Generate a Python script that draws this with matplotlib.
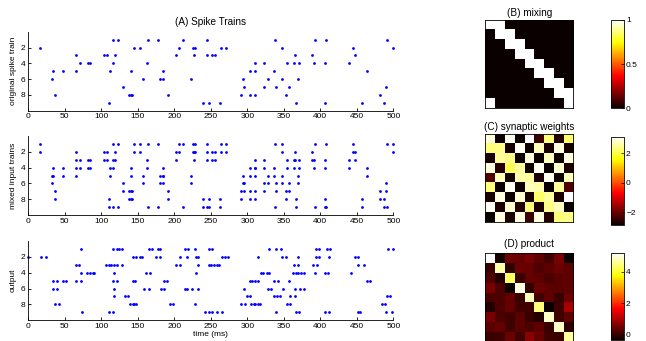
import numpy as np
import matplotlib
matplotlib.use("Agg")
import matplotlib.pyplot as plt

plt.rcParams['font.family'] = ['Liberation Sans', 'DejaVu Sans']
plt.rcParams['font.size'] = 6

# spike times (ms) of the 9 original trains
orig_trains = [
    [116, 123, 164, 177, 212, 245, 338, 393, 408, 492],
    [16, 145, 153, 207, 226, 228, 264, 271, 347, 445, 500],
    [65, 104, 108, 119, 202, 227, 245, 251, 256, 365, 388, 448],
    [71, 82, 85, 116, 162, 310, 323, 355, 364, 371, 391, 406, 439],
    [34, 47, 65, 112, 141, 185, 304, 311, 337, 464],
    [33, 157, 181, 184, 223, 294, 328, 348, 369],
    [130, 296, 323, 340, 357, 490],
    [37, 138, 141, 142, 192, 292, 304, 311, 353, 482],
    [111, 239, 248, 262, 367, 406, 457, 487],
]

# mixing matrix (B)
mixing = [
    [1, 1, 0, 0, 0, 0, 0, 0, 0],
    [0, 1, 1, 0, 0, 0, 0, 0, 0],
    [0, 0, 1, 1, 0, 0, 0, 0, 0],
    [0, 0, 0, 1, 1, 0, 0, 0, 0],
    [0, 0, 0, 0, 1, 1, 0, 0, 0],
    [0, 0, 0, 0, 0, 1, 1, 0, 0],
    [0, 0, 0, 0, 0, 0, 1, 1, 0],
    [0, 0, 0, 0, 0, 0, 0, 1, 1],
    [1, 0, 0, 0, 0, 0, 0, 0, 1],
]

# output spike times (ms)
out_trains = [
    [72, 116, 121, 124, 128, 165, 169, 177, 180, 215, 219, 229, 247, 252, 330, 340, 346, 394, 398, 409, 413, 493, 499],
    [0, 17, 24, 143, 148, 153, 156, 175, 180, 208, 218, 230, 233, 266, 270, 274, 314, 348, 353, 370, 394, 398, 412, 447, 452],
    [65, 69, 106, 110, 113, 117, 121, 128, 202, 208, 232, 247, 250, 254, 258, 261, 364, 370, 390, 396, 451, 460],
    [72, 80, 85, 88, 90, 118, 161, 167, 230, 319, 322, 327, 330, 362, 367, 370, 373, 377, 393, 406, 411, 442],
    [34, 39, 47, 51, 66, 72, 116, 121, 143, 146, 186, 190, 304, 307, 311, 314, 337, 342, 357, 464, 468],
    [34, 39, 118, 159, 165, 182, 186, 214, 217, 224, 233, 295, 329, 333, 349, 366, 372, 378],
    [118, 132, 137, 299, 304, 337, 341, 345, 358, 366, 491, 495],
    [37, 42, 139, 143, 145, 148, 194, 198, 229, 292, 297, 305, 309, 311, 314, 318, 354, 358, 484, 489],
    [74, 111, 116, 242, 248, 252, 258, 265, 340, 367, 371, 407, 412, 451, 455, 490, 498],
]

# synaptic weights (C)
weights = [
    [2.9, -2.8, 3.0, -2.85, 3.1, -2.4, 2.3, -2.6, 2.2],
    [2.3, 2.4, -2.75, 3.0, -2.8, 2.7, -2.7, 2.9, -2.75],
    [-2.7, 2.5, 2.4, -2.8, 2.9, -2.85, 2.7, -2.8, 2.9],
    [2.9, -2.6, 2.1, 2.5, -2.8, 3.0, -2.85, 2.8, -2.7],
    [-2.2, 2.7, -2.75, 2.6, 2.5, -2.7, 3.0, -2.8, 2.7],
    [2.3, -2.8, 3.0, -2.8, 2.7, 2.6, -2.85, 2.5, -2.2],
    [-2.7, 2.9, -2.8, 2.8, -2.7, 2.2, 2.5, -2.7, 3.1],
    [3.05, -2.7, 2.8, -2.6, 2.3, -2.7, 2.4, 2.7, -2.85],
    [-2.85, 2.9, -2.7, 2.9, -2.4, 2.9, -2.6, 2.3, 2.4],
]

# product (D)
product = [
    [5.15, -0.25, 0.5, 0.4, 0.55, 0.35, 0.1, 0.55, -0.35],
    [0.05, 4.7, -0.05, 0.45, 0.4, 0.2, 0.35, 0.45, 0.35],
    [0.2, -0.15, 4.3, 0.05, 0.4, 0.35, 0.2, 0.3, 0.35],
    [0.55, 0.2, -0.35, 5.0, -0.05, 0.45, 0.35, 0.3, 0.35],
    [0.2, 0.2, 0.4, 0.05, 4.8, 0.1, 0.35, 0.05, 0.45],
    [-0.15, 0.2, 0.4, 0.1, 0.1, 4.45, -0.35, 0.1, 0.95],
    [0.55, 0.2, 0.1, 0.3, 0.05, -0.15, 4.85, 0.1, 0.35],
    [0.3, 0.4, 0.1, 0.3, 0.2, 0.35, 0.05, 4.85, -0.05],
    [0.05, 0.1, 0.45, 0.1, 0.7, 0.4, 0.1, 0.05, 4.65],
]

# mixed trains: union of the original trains picked by each mixing row
mixed_trains = []
for row in mixing:
    ts = set()
    for j, m in enumerate(row):
        if m:
            ts.update(orig_trains[j])
    mixed_trains.append(sorted(ts))

fig = plt.figure(figsize=(6.46, 3.41), dpi=100)

W, H = 646.0, 341.0
def box(x0, top, w, h):
    return [x0 / W, 1 - (top + h) / H, w / W, h / H]

raster_tops = [31.7, 136.1, 241.1]
raster_data = [orig_trains, mixed_trains, out_trains]
ylabels = ['original spike train', 'mixed input trains', 'output']

for k in range(3):
    ax = fig.add_axes(box(28.3, raster_tops[k], 365, 79))
    for i, ts in enumerate(raster_data[k]):
        ax.plot(ts, [i + 1] * len(ts), '.', color='#0000ff', ms=4,
                mec='none', clip_on=False)
    ax.set_xlim(0, 500)
    ax.set_ylim(10, 0)
    ax.set_xticks(range(0, 501, 50))
    ax.set_yticks([2, 4, 6, 8])
    ax.spines['top'].set_visible(False)
    ax.spines['right'].set_visible(False)
    for s in ['left', 'bottom']:
        ax.spines[s].set_linewidth(0.6)
    ax.tick_params(direction='in', length=2.5, width=0.6, pad=2, labelsize=6)
    ax.set_ylabel(ylabels[k], labelpad=3)
    if k == 0:
        ax.set_title('(A) Spike Trains', pad=5)
    if k == 2:
        ax.set_xlabel('time (ms)', labelpad=1)

mats = [mixing, weights, product]
titles = ['(B) mixing', '(C) synaptic weights', '(D) product']
mat_tops = [20.0, 134.0, 253.3]
cb_tops = [20.0, 136.7, 253.3]
cb_h = [88.3, 88.3, 87.0]
lims = [(0, 1), (-2.85, 3.1), (-0.36, 5.17)]
cticks = [[0, 0.5, 1], [-2, 0, 2], [0, 2, 4]]
tpads = [3, 3, 4.5]

for k in range(3):
    ax = fig.add_axes(box(485, mat_tops[k], 88.3, 88.3))
    im = ax.imshow(np.array(mats[k]), cmap='hot', vmin=lims[k][0], vmax=lims[k][1],
                   interpolation='nearest', aspect='auto')
    ax.set_xticks([])
    ax.set_yticks([])
    for s in ax.spines.values():
        s.set_linewidth(0.6)
    ax.set_title(titles[k], pad=tpads[k])

    cax = fig.add_axes(box(610.7, cb_tops[k], 13.3, cb_h[k]))
    cb = fig.colorbar(im, cax=cax, ticks=cticks[k])
    cb.outline.set_linewidth(0.6)
    cax.tick_params(direction='in', length=2, width=0.5, pad=1.5, labelsize=6)
    if k == 0:
        cb.set_ticklabels(['0', '0.5', '1'])

fig.savefig('out.png', dpi=100)
